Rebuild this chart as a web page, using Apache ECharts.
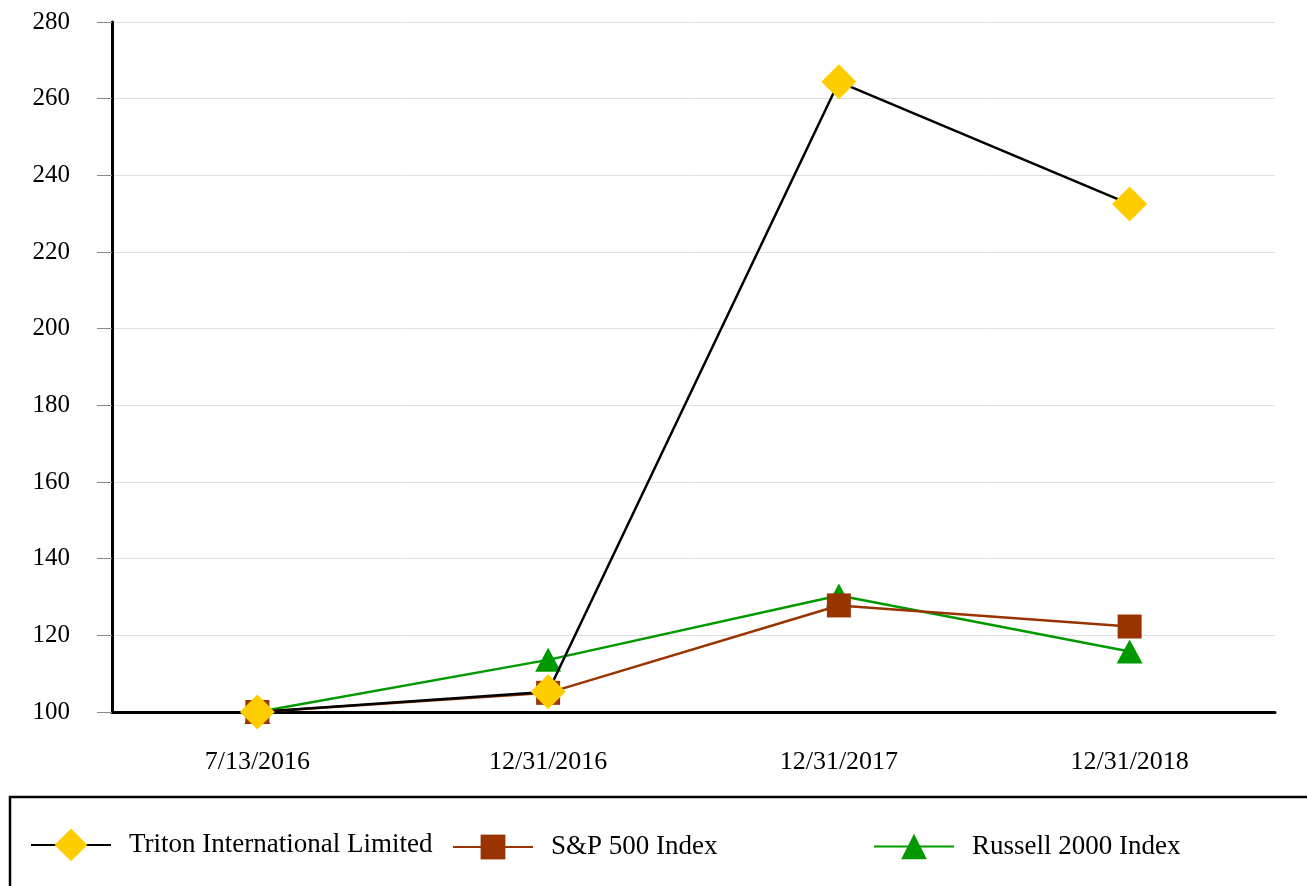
<!DOCTYPE html>
<html>
<head>
<meta charset="utf-8">
<script src="https://cdn.jsdelivr.net/npm/echarts@6/dist/echarts.min.js"></script>
<style>
  html, body { margin: 0; padding: 0; background: #fff; }
  #chart { width: 1307px; height: 886px; }
</style>
</head>
<body>
<div id="chart"></div>
<script>
// Datos del gráfico
const fechas = ['7/13/2016', '12/31/2016', '12/31/2017', '12/31/2018'];
const triton = [100, 105.3, 264.4, 232.5];
const sp500 = [100, 105, 127.8, 122.3];
const russell = [100, 113.6, 130.4, 115.8];

const fuente = 'Liberation Serif, Times New Roman, serif';

document.addEventListener('DOMContentLoaded', () => {
    const chart = echarts.init(document.getElementById('chart'));

    // Leyenda: una por serie para respetar las posiciones
    function leyenda(nombre, left, h) {
        return {
            data: [nombre],
            left: left,
            top: 849 - h / 2,
            padding: 0,
            itemWidth: 80,
            itemHeight: h,
            textStyle: { fontFamily: fuente, fontSize: 27, color: '#000', padding: [0, 0, 0, 13] }
        };
    }

    const option = {
        animation: false,
        backgroundColor: '#fff',
        grid: { left: 112, right: 32, top: 22, bottom: 174 },
        graphic: [{
            type: 'rect',
            shape: { x: 10, y: 797, width: 1310, height: 100 },
            style: { fill: 'none', stroke: '#000', lineWidth: 2.5 }
        }],
        legend: [
            leyenda('Triton International Limited', 30, 41),
            leyenda('S&P 500 Index', 452, 31),
            leyenda('Russell 2000 Index', 873, 32)
        ],
        xAxis: {
            type: 'category',
            data: fechas,
            boundaryGap: true,
            axisLine: { lineStyle: { color: '#000', width: 3 } },
            axisTick: { alignWithLabel: true, length: 14, lineStyle: { color: '#888' } },
            axisLabel: { margin: 37, fontFamily: fuente, fontSize: 26, color: '#000' },
            splitLine: { show: false }
        },
        yAxis: {
            type: 'value',
            min: 100,
            max: 280,
            interval: 20,
            axisLine: { show: true, lineStyle: { color: '#000', width: 3 } },
            axisTick: { show: true, length: 15, lineStyle: { color: '#888' } },
            axisLabel: { margin: 42, fontFamily: fuente, fontSize: 25, color: '#000' },
            splitLine: { lineStyle: { color: '#e0e0e0' } }
        },
        series: [
            {
                name: 'Russell 2000 Index',
                type: 'line',
                data: russell,
                symbol: 'triangle',
                symbolSize: [26, 24],
                lineStyle: { color: '#009900', width: 2.5 },
                itemStyle: { color: '#009900' },
                z: 2
            },
            {
                name: 'S&P 500 Index',
                type: 'line',
                data: sp500,
                symbol: 'rect',
                symbolSize: 24,
                lineStyle: { color: '#993300', width: 2.5 },
                itemStyle: { color: '#993300' },
                z: 3
            },
            {
                name: 'Triton International Limited',
                type: 'line',
                data: triton,
                symbol: 'diamond',
                symbolSize: 35,
                lineStyle: { color: '#000', width: 2.5 },
                itemStyle: { color: '#ffcc00' },
                z: 4
            }
        ]
    };

    chart.setOption(option);
    window.addEventListener('resize', () => chart.resize());
});
</script>
</body>
</html>
